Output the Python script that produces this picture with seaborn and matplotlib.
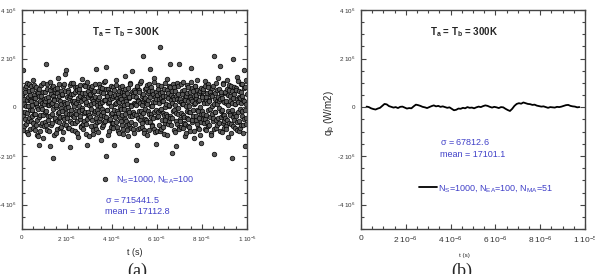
import numpy as np
import pandas as pd
import matplotlib
matplotlib.use('Agg')
import matplotlib.pyplot as plt
from matplotlib.ticker import AutoMinorLocator
import seaborn as sns

sns.set_style('ticks')
plt.rcParams['font.family'] = ['Liberation Sans', 'DejaVu Sans']
plt.rcParams['mathtext.fontset'] = 'custom'
plt.rcParams['mathtext.rm'] = 'Liberation Sans'
plt.rcParams['mathtext.it'] = 'Liberation Sans'
plt.rcParams['mathtext.bf'] = 'Liberation Sans:bold'

# (a) raw heat flux samples, units of 1e6 W/m2
# even samples
q_raw_even = [
    0.42, -0.35, 1.55, 0.12, -0.78, 0.65, -0.21, 0.88, -1.02, 0.31, -0.55, 0.07, 0.96, -0.43, 0.52, -0.88, 0.24, -0.12, 0.71, -0.66,
    1.12, -0.29, 0.38, -0.95, 0.15, 0.83, -0.51, 0.02, -1.18, 0.59, -1.53, 0.47, -0.33, 0.92, -0.74, 0.19, -0.08, 0.63, -1.27, 0.36,
    -0.62, 0.28, -0.14, 1.80, 0.75, -0.92, 0.41, -0.37, 0.09, 1.05, -1.58, 0.56, -0.71, 0.18, -0.26, 0.87, -2.09, 0.33, -0.48, 0.64,
    -1.06, 0.11, 0.79, -0.58, 1.21, -0.19, 0.45, -0.83, 0.27, -0.04, 0.68, -1.31, 0.53, -0.39, 0.95, -0.67, 0.14, 1.36, -0.24, 1.55,
    -0.45, 0.72, 0.03, -0.86, 0.38, -1.64, 0.91, -0.27, 0.56, -0.63, 0.17, 1.02, -0.41, 0.25, -0.97, 0.61, -0.15, 0.84, -0.56, 0.32,
    -1.22, 0.06, 0.77, -0.34, 0.48, -0.81, 1.18, -0.09, 0.39, -0.69, 0.93, -0.22, 0.58, -1.11, 0.21, -0.47, -1.55, 0.66, -0.18, 0.85,
    -0.31, 0.54, -0.76, 0.13, 0.89, -0.52, 0.26, -1.08, 0.67, -0.16, 0.43, -0.89, 1.57, 0.08, -0.61, 0.35, -0.23, 0.97, -0.44, 0.19,
    -1.35, 0.62, -0.07, 0.81, -0.73, 0.29, -0.36, 1.09, -0.55, 1.66, -1.99, 0.47, -0.13, 0.74, -0.98, 0.22, -0.49, 0.58, 0.04, -0.82,
    0.37, -0.64, 0.82, -0.11, -1.53, 0.51, -0.38, 0.16, 1.14, -0.79, 0.28, -0.25, 0.69, -1.04, 0.44, 0.01, -0.57, 0.88, -0.32, 0.23,
    -0.91, 0.61, -0.06, 1.27, -0.46, 0.34, -0.72, 0.12, 0.79, -1.19, 0.41, -0.19, 0.94, -0.62, 0.07, 1.50, -0.35, 0.53, -0.87, 0.18,
    -0.28, 0.63, -2.18, 0.09, 0.85, -1.54, 0.31, -0.42, 0.72, -0.83, 0.19, 1.07, -0.17, 0.47, -0.66, 0.26, 2.09, -0.95, 0.39, -0.08,
    0.78, -0.53, 0.14, -1.14, 0.57, -0.29, 0.96, -0.61, 1.57, 0.05, -0.39, 0.68, -0.76, 0.22, 1.19, -0.21, 0.44, -1.01, 0.33, -1.51,
    0.52, -0.34, 0.91, -0.71, 0.16, -0.12, 2.47, 0.38, -0.88, 0.64, -0.23, 0.27, -1.09, 0.75, 0.02, -0.51, 0.46, 1.15, -0.37, 0.59,
    -0.68, 0.11, 0.87, 1.80, -0.44, 0.29, -1.86, 0.67, -0.15, 0.41, -0.93, 0.83, 0.08, -0.57, -1.58, 0.36, 0.99, -0.26, 0.54, -0.79,
    1.80, -0.46, 0.23, -0.82, 0.69, 0.14, -0.31, 1.03, -0.64, 0.37, -1.16, 0.48, 0.06, -0.42, 0.92, -0.75, 0.25, -0.18, 0.61, -0.97,
    1.62, 0.33, -0.54, 0.78, -0.09, 0.45, -1.24, 0.17, 0.86, -0.36, 0.52, -0.69, 1.11, -0.14, 0.31, -0.87, 0.66, 0.03, -0.59, -1.45,
    0.41, -0.27, 0.74, -0.63, 0.18, 1.08, -0.49, 0.32, -0.94, 0.57, -0.11, 0.85, -0.72, 0.24, -0.38, 0.63, -1.13, 0.47, 0.04, -0.56,
    0.89, -1.93, 2.09, -0.21, 0.35, -0.84, 0.71, 0.12, -0.45, 1.21, -0.66, 0.28, 1.70, -0.17, 0.53, -1.03, 0.39, -0.31, 0.95, -0.58,
    -0.33, 0.61, -0.78, 0.27, 1.12, -0.52, 0.09, -1.21, 0.73, -0.24, 0.46, -0.67, 0.88, -2.09, 0.19, -0.41, 1.99, 0.55, -0.86, 0.13,
    0.79, -0.35, 1.26, -0.61, 0.22, -0.98, 0.68, -0.07, 0.37, -0.73, 0.94, -0.16, 0.48, -1.07, 1.52, 0.26, -1.58, 0.84, -0.44, 0.15,
]
# odd samples
q_raw_odd = [
    -0.18, 0.57, -0.92, 0.34, 0.81, -0.47, 0.05, -0.69, 0.98, -0.24, 0.43, -1.08, 0.66, -0.13, 0.29, -0.58, 0.86, -0.36, 0.11, -0.84,
    0.52, 0.93, -0.27, 0.38, -0.72, 0.17, -1.12, 0.61, -0.05, 0.74, -0.41, 0.24, -0.96, 0.48, 0.02, -0.63, 1.01, -0.31, 0.15, -0.77,
    0.62, -0.19, 0.37, -0.74, 0.94, 0.08, -0.53, 0.26, -0.99, 0.71, -0.35, 0.14, -0.66, 0.83, -0.08, 0.45, -1.15, 0.31, -0.42, 0.77,
    0.03, -0.87, 0.59, -0.22, 0.35, -0.61, 0.97, -0.38, 0.12, -0.79, 0.49, -0.15, 0.88, -1.03, 0.21, -0.46, 0.67, -0.02, -0.71, 0.42,
    0.16, -0.83, 0.64, -0.29, 0.47, -0.58, 0.99, -0.11, 0.28, -0.94, 0.55, -0.37, 0.07, 0.82, -0.64, 0.19, -0.26, 0.73, -1.06, 0.39,
    -0.14, 0.61, -0.49, 0.92, -0.78, 0.25, -0.03, 0.58, -0.91, 0.34, -0.56, 0.86, -0.21, 0.13, -0.68, 1.04, -0.33, 0.44, -1.17, 0.09,
    0.51, -0.39, 0.78, -0.06, 0.36, -0.93, 0.63, -0.24, 0.17, -0.71, 0.95, -0.45, 0.28, -0.12, 0.69, -1.02, 0.42, -0.57, 0.06, 0.84,
    -0.33, 0.22, -0.82, 0.57, -0.18, 1.03, -0.62, 0.31, -0.41, 0.76, -0.09, 0.48, -1.13, 0.18, 0.65, -0.52, 0.33, -0.27, 0.89, -0.66,
    -0.22, 0.48, -0.85, 0.71, -0.37, 0.15, 0.92, -0.61, 0.38, -0.17, 0.56, -0.97, 0.21, -0.44, 0.83, -0.08, 0.34, -0.73, 0.65, -1.09,
    0.11, 0.49, -0.29, 0.77, -0.55, 0.26, -0.94, 0.58, -0.13, 0.37, -0.68, 0.99, -0.35, 0.08, -0.84, 0.62, -0.21, 0.46, -1.04, 0.73,
    0.13, -0.67, 0.44, -0.32, 0.87, -0.89, 0.27, -0.14, 0.65, -0.51, 0.98, -0.36, 0.09, -0.79, 0.53, -0.23, 0.36, -1.05, 0.74, -0.46,
    0.18, 0.91, -0.59, 0.32, -0.16, 0.67, -0.93, 0.41, -0.28, 0.84, -0.71, 0.07, 0.55, -0.43, 1.06, -0.88, 0.23, -0.11, 0.62, -0.98,
    -0.41, 0.76, -0.19, 0.35, -0.96, 0.58, -0.07, 0.89, -0.53, 0.24, -0.82, 0.46, -0.31, 1.02, -0.64, 0.13, -0.27, 0.71, -1.14, 0.39,
    0.04, -0.58, 0.82, -0.36, 0.51, -0.74, 0.19, -0.45, 0.94, -0.12, 0.33, -1.01, 0.68, -0.22, 0.47, -0.69, 0.86, -0.04, 0.28, -0.91,
    0.35, -0.57, 0.97, -0.25, 0.54, -0.86, 0.12, -0.39, 0.73, -0.68, 0.31, -1.07, 0.58, -0.15, 0.84, -0.47, 0.06, -0.79, 0.42, -0.21,
    1.05, -0.62, 0.27, -0.34, 0.66, -0.98, 0.15, 0.89, -0.51, 0.39, -0.11, 0.72, -0.86, 0.24, -0.43, 0.57, -1.12, 0.81, -0.26, 0.46,
    -0.14, 0.68, -0.49, 0.23, -0.91, 0.86, -0.33, 0.42, -0.62, 0.17, 0.95, -0.76, 0.31, -0.08, 0.63, -1.04, 0.49, -0.28, 0.81, -0.45,
    0.12, -0.88, 0.57, -0.19, 0.99, -0.54, 0.26, -0.71, 0.44, -0.02, 0.77, -0.96, 0.36, -0.38, 0.61, -0.13, 1.01, -0.65, 0.21, -0.85,
    0.58, -0.42, 0.19, -0.88, 0.75, -0.16, 0.49, -0.63, 0.92, -0.31, 0.24, -1.06, 0.66, -0.09, 0.39, -0.77, 0.85, -0.52, 0.14, -0.29,
    0.71, -0.94, 0.33, -0.19, 1.08, -0.57, 0.43, -0.84, 0.17, 0.62, -0.36, 0.96, -0.71, 0.29, -0.47, 0.81, -0.12, 1.14, -0.68, 0.53,
]

# (b) ensemble + moving average, units of 1e5 W/m2, t from 0.25 to 9.75 us
q_ma = [
    0.3, 0.1, -0.4, -0.7, -0.9, -0.5, -0.2, 0.6, 1.4, 1.2,
    0.5, 0.2, -0.1, 0.1, -0.3, 0.2, 0.3, -0.1, -0.5, -0.3,
    -0.4, 0.4, 1.1, 0.9, 0.6, 0.2, 0.0, -0.3, 0.1, 0.5,
    0.8, 0.4, 0.6, 0.2, 0.4, 0.1, -0.2, 0.0, -0.6, -1.2,
    -1.0, -0.5, -0.6, -0.2, -0.4, 0.1, -0.2, -0.1, -0.4, 0.0,
    0.3, 0.1, 0.5, 0.8, 0.6, 0.2, -0.1, 0.2, 0.0, -0.3,
    0.1, 0.0, -0.6, -1.1, -1.5, -0.6, 0.6, 1.4, 1.7, 1.5,
    2.0, 1.7, 1.4, 1.3, 1.0, 1.1, 0.7, 0.5, 0.3, 0.4,
    0.1, -0.2, 0.1, 0.0, -0.1, 0.2, 0.1, 0.3, 0.6, 0.9,
    1.0, 0.6, 0.4, 0.3, 0.0, 0.1,
]

t_end = 1e-5
ma_start, ma_end = 0.25e-6, 9.75e-6

x_ticks = [0, 2e-6, 4e-6, 6e-6, 8e-6, 1e-5]
x_labels = ['0', '2 10$^{-6}$', '4 10$^{-6}$', '6 10$^{-6}$', '8 10$^{-6}$', '1 10$^{-5}$']
y_ticks = [-4e6, -2e6, 0, 2e6, 4e6]
y_labels = ['-4 10$^{6}$', '-2 10$^{6}$', '0', '2 10$^{6}$', '4 10$^{6}$']

blue = '#4040c8'
title_txt = 'T$_\\mathbf{a}$ = T$_\\mathbf{b}$ = 300K'

# interleave even / odd samples into one time series
q_raw = np.empty(len(q_raw_even) + len(q_raw_odd))
q_raw[0::2] = q_raw_even
q_raw[1::2] = q_raw_odd

df_a = pd.DataFrame({'t': np.linspace(0, t_end, len(q_raw), endpoint=False),
                     'q': q_raw * 1e6})
df_b = pd.DataFrame({'t': np.linspace(ma_start, ma_end, len(q_ma)),
                     'q': np.array(q_ma) * 1e5})

fig = plt.figure(figsize=(5.95, 2.74), dpi=100)
ax1 = fig.add_axes([22 / 595, 45 / 274, 225 / 595, 219 / 274])
ax2 = fig.add_axes([361 / 595, 45 / 274, 224 / 595, 219 / 274])

sns.scatterplot(data=df_a, x='t', y='q', ax=ax1, s=11, color='#5a5a5a',
                edgecolor='black', linewidth=0.5, label='N$_S$=1000, N$_{EA}$=100')
sns.lineplot(data=df_b, x='t', y='q', ax=ax2, color='black', linewidth=1.3,
             label='N$_S$=1000, N$_{EA}$=100, N$_{MA}$=51')

for ax, xfs, yfs in [(ax1, 4.5, 4.5), (ax2, 6, 4.5)]:
    ax.set_xlim(0, t_end)
    ax.set_ylim(-5e6, 4e6)
    ax.set_xticks(x_ticks)
    ax.set_xticklabels(x_labels, fontsize=xfs, color='#333333')
    ax.set_yticks(y_ticks)
    ax.set_yticklabels(y_labels, fontsize=yfs, color='#333333')
    ax.xaxis.set_minor_locator(AutoMinorLocator(4))
    ax.yaxis.set_minor_locator(AutoMinorLocator(4))
    ax.tick_params(which='both', direction='in', top=True, right=True, color='#444444', width=0.8)
    ax.tick_params(which='major', length=3.5, pad=4)
    ax.tick_params(which='minor', length=2)
    for sp in ax.spines.values():
        sp.set_color('#444444')
        sp.set_linewidth(1.0)
    ax.set_ylabel('q$_b$ (W/m2)', fontsize=7)
    ax.yaxis.set_label_coords(-0.11, 0.53)
    ax.text(0.31, 0.90, title_txt, transform=ax.transAxes, fontsize=7, fontweight='bold',
            ha='left', va='center')

ax1.set_xlabel('t (s)', fontsize=6.5)
ax1.xaxis.set_label_coords(0.5, -0.085)
ax2.set_xlabel('t (s)', fontsize=4.5)
ax2.xaxis.set_label_coords(0.46, -0.11)

ax1.legend(loc='center left', bbox_to_anchor=(0.33, 0.228), frameon=False, fontsize=6.5,
           labelcolor=blue, handletextpad=0.2, borderaxespad=0, borderpad=0)
ax1.text(0.369, 0.132, '$\\sigma$ = 715441.5', transform=ax1.transAxes, fontsize=6.5,
         color=blue, ha='left', va='center')
ax1.text(0.369, 0.082, 'mean = 17112.8', transform=ax1.transAxes, fontsize=6.5,
         color=blue, ha='left', va='center')

ax2.legend(loc='center left', bbox_to_anchor=(0.26, 0.187), frameon=False, fontsize=6.5,
           labelcolor=blue, handlelength=2.0, handletextpad=0.1, borderaxespad=0, borderpad=0)
ax2.text(0.353, 0.397, '$\\sigma$ = 67812.6', transform=ax2.transAxes, fontsize=6.5,
         color=blue, ha='left', va='center')
ax2.text(0.353, 0.342, 'mean = 17101.1', transform=ax2.transAxes, fontsize=6.5,
         color=blue, ha='left', va='center')

fig.text(137 / 595, 0.040, '(a)', fontsize=13, family='Liberation Serif', ha='center', va='top')
fig.text(462 / 595, 0.040, '(b)', fontsize=13, family='Liberation Serif', ha='center', va='top')

fig.savefig('out.png', dpi=100)
